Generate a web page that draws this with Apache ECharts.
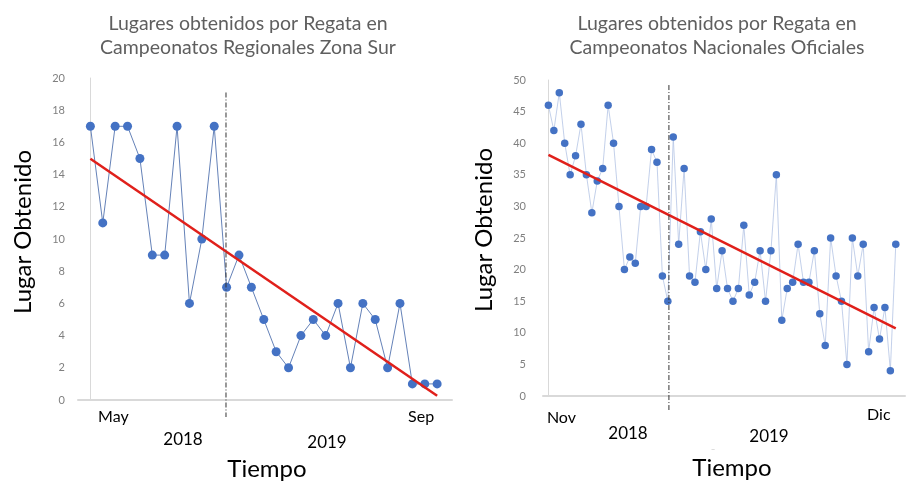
<!DOCTYPE html>
<html>
<head>
<meta charset="utf-8">
<script src="https://cdn.jsdelivr.net/npm/echarts@6/dist/echarts.min.js"></script>
<style>
  html, body { margin: 0; padding: 0; background: #fff; }
  #main { width: 912px; height: 481px; }
</style>
</head>
<body>
<div id="main"></div>
<script>
// lugares obtenidos, zona sur (may 2018 - sep 2019)
var regionalPlaces = [17, 11, 17, 17, 15, 9, 9, 17, 6, 10, 17, 7, 9, 7, 5, 3, 2, 4, 5, 4, 6, 2, 6, 5, 2, 6, 1, 1, 1];
// lugares obtenidos, nacionales (nov 2018 - dic 2019)
var nationalPlaces = [46, 42, 48, 40, 35, 38, 43, 35, 29, 34, 36, 46, 40, 30, 20, 22, 21, 30, 30, 39,
  37, 19, 15, 41, 24, 36, 19, 18, 26, 20, 28, 17, 23, 17, 15, 17, 27, 16, 18, 23,
  15, 23, 35, 12, 17, 18, 24, 18, 18, 23, 13, 8, 25, 19, 15, 5, 25, 19, 24, 7,
  14, 9, 14, 4, 24];
// separador de año (indice de regata)
var regionalYearSplit = 10.95;
var nationalYearSplit = 22.2;
var regionalMonths = ['May', 'Sep'];
var nationalMonths = ['Nov', 'Dic'];
var years = ['2018', '2019'];
var regionalYTicks = { min: 0, max: 20, interval: 2 };
var nationalYTicks = { min: 0, max: 50, interval: 5 };

function toPoints(arr) {
  return arr.map(function (v, i) { return [i, v]; });
}

// tendencia lineal (minimos cuadrados)
function trend(arr) {
  var n = arr.length, sx = 0, sy = 0, sxy = 0, sxx = 0;
  arr.forEach(function (v, i) { sx += i; sy += v; sxy += i * v; sxx += i * i; });
  var b = (n * sxy - sx * sy) / (n * sxx - sx * sx);
  var a = (sy - b * sx) / n;
  return [[0, a], [n - 1, a + b * (n - 1)]];
}

var FONT = 'Lato';
var myChart = echarts.init(document.getElementById('main'));

var yAxisBase = {
  type: 'value',
  splitLine: { show: false },
  axisTick: { show: false },
  axisLine: { show: true, lineStyle: { color: '#d9d9d9', width: 1 } },
  axisLabel: { color: '#7f7f7f', fontSize: 11, fontFamily: FONT }
};
var xAxisBase = {
  type: 'value',
  splitLine: { show: false },
  axisTick: { show: false },
  axisLabel: { show: false },
  axisLine: { show: true, onZero: false, lineStyle: { color: '#d9d9d9', width: 2 } }
};

var titleStyle = { fontFamily: FONT, fontWeight: 'normal', fontSize: 19.5, lineHeight: 24, color: '#5f5f5f' };

var option = {
  animation: false,
  backgroundColor: '#fff',
  title: [
    {
      text: 'Lugares obtenidos por Regata en\nCampeonatos Regionales Zona Sur',
      left: 243, top: 7, textAlign: 'center',
      textStyle: titleStyle
    },
    {
      text: 'Lugares obtenidos por Regata en\nCampeonatos Nacionales Oficiales',
      left: 712, top: 7, textAlign: 'center',
      textStyle: titleStyle
    }
  ],
  grid: [
    { left: 78, top: 78, right: 460, bottom: 81 },
    { left: 543, top: 80, right: 7, bottom: 85 }
  ],
  xAxis: [
    Object.assign({}, xAxisBase, { gridIndex: 0, min: -1, max: 29.2 }),
    Object.assign({}, xAxisBase, { gridIndex: 1, min: -1, max: 65.7 })
  ],
  yAxis: [
    Object.assign({}, yAxisBase, { gridIndex: 0, axisLabel: Object.assign({}, yAxisBase.axisLabel, { margin: 13 }) }, regionalYTicks),
    Object.assign({}, yAxisBase, { gridIndex: 1, axisLabel: Object.assign({}, yAxisBase.axisLabel, { margin: 17 }) }, nationalYTicks)
  ],
  series: [
    {
      type: 'line', xAxisIndex: 0, yAxisIndex: 0,
      data: toPoints(regionalPlaces),
      symbol: 'circle', symbolSize: 9,
      itemStyle: { color: '#4472c4' },
      lineStyle: { color: '#6582b8', width: 1 },
      z: 3
    },
    {
      type: 'line', xAxisIndex: 0, yAxisIndex: 0,
      data: trend(regionalPlaces),
      symbol: 'none',
      lineStyle: { color: '#e0201b', width: 2.5 },
      z: 4
    },
    {
      type: 'line', xAxisIndex: 1, yAxisIndex: 1,
      data: toPoints(nationalPlaces),
      symbol: 'circle', symbolSize: 7.5,
      itemStyle: { color: '#4472c4' },
      lineStyle: { color: '#b4c4e4', width: 0.8 },
      z: 3
    },
    {
      type: 'line', xAxisIndex: 1, yAxisIndex: 1,
      data: trend(nationalPlaces),
      symbol: 'none',
      lineStyle: { color: '#e0201b', width: 2.5 },
      z: 4
    }
  ]
};
myChart.setOption(option);

// textos del eje x y separadores de año, ubicados con las escalas del grafico
var p0 = myChart.convertToPixel({ gridIndex: 0 }, [0, 0]);
var pL = myChart.convertToPixel({ gridIndex: 0 }, [regionalPlaces.length - 1, 0]);
var sL = myChart.convertToPixel({ gridIndex: 0 }, [regionalYearSplit, 19.1]);
var q0 = myChart.convertToPixel({ gridIndex: 1 }, [0, 0]);
var qL = myChart.convertToPixel({ gridIndex: 1 }, [nationalPlaces.length - 1, 0]);
var sR = myChart.convertToPixel({ gridIndex: 1 }, [nationalYearSplit, 49.2]);

var dashStyle = { stroke: '#333', lineWidth: 1, lineDash: [5, 2, 1, 2] };
function txt(x, y, s, size, color, rot) {
  return {
    type: 'text', x: x, y: y, rotation: rot || 0,
    style: { text: s, fontFamily: FONT, fontSize: size, fill: color || '#000', align: 'center', verticalAlign: 'middle' }
  };
}

myChart.setOption({
  graphic: [
    { type: 'line', shape: { x1: sL[0], y1: sL[1], x2: sL[0], y2: p0[1] + 17 }, style: dashStyle, z: 5 },
    { type: 'line', shape: { x1: sR[0], y1: sR[1], x2: sR[0], y2: q0[1] + 14 }, style: dashStyle, z: 5 },
    txt(p0[0] + 23, p0[1] + 17, regionalMonths[0], 16),
    txt(pL[0] - 16, p0[1] + 17, regionalMonths[1], 16),
    txt(183, 440, years[0], 17),
    txt(327, 443, years[1], 17),
    txt(267, 469, 'Tiempo', 24),
    txt(23, 232, 'Lugar Obtenido', 24, '#000', Math.PI / 2),
    txt(q0[0] + 13, q0[1] + 22, nationalMonths[0], 16),
    txt(qL[0] - 17, q0[1] + 19, nationalMonths[1], 16),
    txt(628, 434, years[0], 17),
    txt(769, 437, years[1], 17),
    txt(713, 446, '_', 8, '#bbb'),
    txt(732, 468, 'Tiempo', 24),
    txt(484, 230, 'Lugar Obtenido', 24, '#000', Math.PI / 2)
  ]
});
</script>
</body>
</html>
